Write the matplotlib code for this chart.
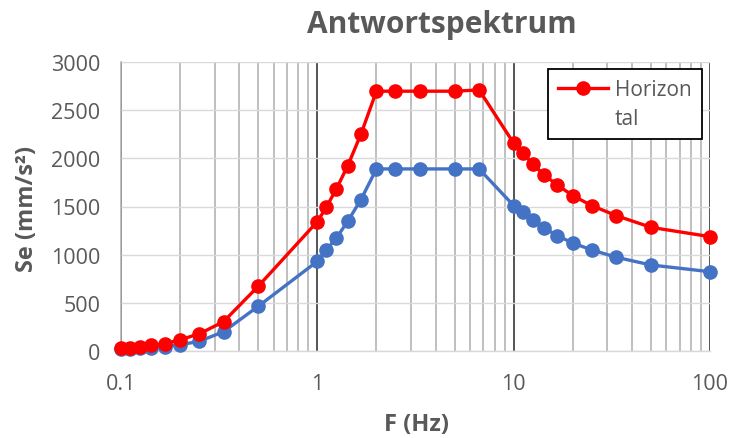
import numpy as np
import matplotlib.pyplot as plt
from matplotlib.lines import Line2D
from matplotlib.ticker import FixedLocator, LogLocator, NullFormatter

# --- data ---
freq = [0.1, 0.111, 0.125, 0.143, 0.167, 0.2, 0.25, 0.333, 0.5,
        1.0, 1.111, 1.25, 1.429, 1.667, 2.0, 2.5, 3.333, 5.0, 6.667,
        10.0, 11.11, 12.5, 14.29, 16.67, 20.0, 25.0, 33.33, 50.0, 100.0]

se_horizontal = [30, 35, 40, 60, 75, 117, 177, 305, 672,
                 1343, 1492, 1682, 1924, 2250, 2697, 2697, 2697, 2697, 2710,
                 2157, 2056, 1942, 1828, 1724, 1613, 1509, 1405, 1284, 1187]

se_vertical = [20, 25, 30, 35, 45, 65, 100, 200, 464,
               931, 1049, 1173, 1347, 1571, 1890, 1890, 1890, 1890, 1890,
               1509, 1440, 1363, 1277, 1197, 1121, 1049, 973, 893, 823]

x_ticks = [0.1, 1, 10, 100]
y_ticks = [0, 500, 1000, 1500, 2000, 2500, 3000]

plt.rcParams['font.family'] = ['Open Sans', 'DejaVu Sans']
text_gray = '#595959'

W, H = 729, 439
fig = plt.figure(figsize=(W / 100, H / 100), dpi=100)
ax = fig.add_axes([121 / W, 1 - 352 / H, 589 / W, 289 / H])

ax.plot(freq, se_vertical, color='#4472C4', linewidth=2.4,
        marker='o', markersize=9.5, zorder=3, clip_on=False)
ax.plot(freq, se_horizontal, color='#FF0000', linewidth=2.4,
        marker='o', markersize=9.5, zorder=4, clip_on=False,
        label='Horizon\ntal')

ax.set_xscale('log')
ax.set_xlim(0.1, 100)
ax.set_ylim(0, 3000)
ax.set_axisbelow(True)

ax.xaxis.set_major_locator(FixedLocator(x_ticks))
ax.set_xticklabels(['0.1', '1', '10', '100'])
ax.xaxis.set_minor_locator(LogLocator(base=10, subs=np.arange(2, 10)))
ax.xaxis.set_minor_formatter(NullFormatter())
ax.set_yticks(y_ticks)

ax.grid(which='major', axis='x', color='#262626', linewidth=1.1)
ax.grid(which='minor', axis='x', color='#ADADAD', linewidth=1.1)
ax.grid(which='major', axis='y', color='#D9D9D9', linewidth=1.0)

for side in ['top', 'right']:
    ax.spines[side].set_visible(False)
ax.spines['left'].set_color('#ADADAD')
ax.spines['left'].set_linewidth(1.1)
ax.spines['bottom'].set_color('#D9D9D9')
ax.spines['bottom'].set_linewidth(1.0)

ax.tick_params(which='both', length=0, labelsize=15.5, labelcolor=text_gray)
ax.tick_params(axis='x', pad=16)
ax.tick_params(axis='y', pad=15)

# title and axis titles placed like the reference
fig.text(442 / W, 1 - 33 / H, 'Antwortspektrum', fontsize=21.5,
         fontweight='bold', color=text_gray, ha='center', va='baseline')
fig.text(416 / W, 1 - 425 / H, 'F (Hz)', fontsize=17, fontweight='bold',
         color=text_gray, ha='center', va='center')
fig.text(27 / W, 1 - 209 / H, 'Se (mm/s²)', fontsize=17, fontweight='bold',
         color=text_gray, ha='center', va='center', rotation=90)

# legend: only the red series, label wrapped like in Excel
leg = ax.legend(loc='upper left', bbox_to_anchor=(548 / W, 1 - 70 / H),
                bbox_transform=fig.transFigure, fontsize=15,
                frameon=True, fancybox=False, edgecolor='black',
                framealpha=1, handlelength=2.4, borderpad=0.5,
                labelspacing=0.2, handletextpad=0.3, borderaxespad=0)
leg.get_frame().set_linewidth(1.3)
for t in leg.get_texts():
    t.set_color(text_gray)
    t.set_linespacing(1.45)
# Excel puts the handle next to the first line of the wrapped label
for ln in leg.findobj(Line2D):
    ln.set_ydata(np.asarray(ln.get_ydata(), dtype=float) + 12)

fig.savefig('out.png', dpi=100)
